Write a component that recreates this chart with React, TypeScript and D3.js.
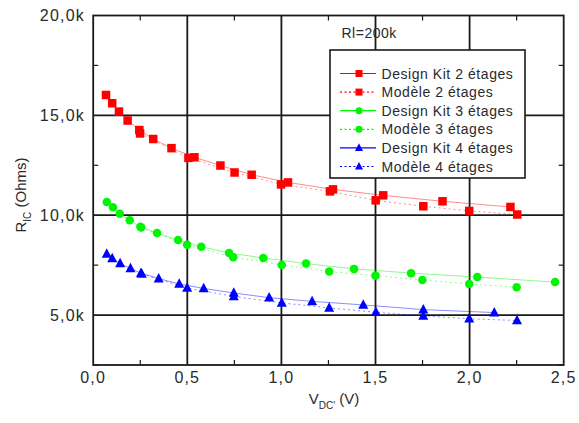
import React from "react";
import * as d3 from "d3";

// ---- Data (V in volts, R in ohms) ----
const dk2V = [0.068, 0.101, 0.137, 0.183, 0.245, 0.319, 0.416, 0.538, 0.676, 0.842, 1.035, 1.274, 1.541, 1.856, 2.217];
const dk2R = [16020, 15607, 15189, 14741, 14264, 13816, 13358, 12900, 12488, 12025, 11642, 11294, 10995, 10697, 10413];
const mo2V = [0.249, 0.506, 0.751, 0.998, 1.258, 1.501, 1.754, 1.998, 2.253];
const mo2R = [14094, 12871, 12139, 11542, 11194, 10746, 10448, 10214, 10035];

const dk3V = [0.072, 0.105, 0.141, 0.194, 0.251, 0.339, 0.451, 0.574, 0.722, 0.904, 1.131, 1.386, 1.689, 2.041, 2.454];
const dk3R = [10662, 10398, 10070, 9751, 9418, 9105, 8756, 8423, 8110, 7861, 7577, 7313, 7100, 6901, 6652];
const mo3V = [0.255, 0.499, 0.744, 1.002, 1.254, 1.5, 1.749, 1.998, 2.25];
const mo3R = [9380, 8522, 7900, 7513, 7179, 6975, 6751, 6557, 6393];

const dk4V = [0.072, 0.101, 0.143, 0.198, 0.254, 0.348, 0.457, 0.587, 0.747, 0.935, 1.163, 1.435, 1.754, 2.131];
const dk4R = [8060, 7831, 7582, 7333, 7100, 6826, 6557, 6333, 6105, 5871, 5687, 5508, 5274, 5125];
const mo4V = [0.258, 0.499, 0.747, 1.002, 1.254, 1.502, 1.754, 1.998, 2.252];
const mo4R = [7060, 6353, 5935, 5607, 5358, 5139, 4960, 4816, 4727];

const xTicks = [0, 0.5, 1, 1.5, 2, 2.5];
const xMinor = [0.25, 0.75, 1.25, 1.75, 2.25];
const yTicks = [5000, 10000, 15000, 20000];
const yMinor = [2500, 7500, 12500, 17500];

const legendLabels = [
  "Design Kit 2 étages",
  "Modèle 2 étages",
  "Design Kit 3 étages",
  "Modèle 3 étages",
  "Design Kit 4 étages",
  "Modèle 4 étages",
];

type Series = { v: number[]; r: number[]; color: string; marker: string; dashed: boolean };
const series: Series[] = [
  { v: dk2V, r: dk2R, color: "#ff0000", marker: "square", dashed: false },
  { v: mo2V, r: mo2R, color: "#ff0000", marker: "square", dashed: true },
  { v: dk3V, r: dk3R, color: "#00f500", marker: "circle", dashed: false },
  { v: mo3V, r: mo3R, color: "#00f500", marker: "circle", dashed: true },
  { v: dk4V, r: dk4R, color: "#0000ff", marker: "triangle", dashed: false },
  { v: mo4V, r: mo4R, color: "#0000ff", marker: "triangle", dashed: true },
];

const FONT = "'Liberation Sans', Arial, sans-serif";

function Marker({ type, x, y, color, s }: { type: string; x: number; y: number; color: string; s: number }) {
  if (type === "square") return <rect x={x - s / 2} y={y - s / 2} width={s} height={s} fill={color} />;
  if (type === "circle") return <circle cx={x} cy={y} r={s / 2} fill={color} />;
  const h = s * 0.95;
  return (
    <path
      d={`M${x},${y - h * 0.6} L${x + s / 2},${y + h * 0.4} L${x - s / 2},${y + h * 0.4} Z`}
      fill={color}
    />
  );
}

export default function App() {
  const W = 579, H = 423;
  const x = d3.scaleLinear().domain([0, 2.5]).range([93.2, 563.7]);
  const y = d3.scaleLinear().domain([2500, 20000]).range([365, 15.5]);
  const [x0, x1] = x.range();
  const [y0, y1] = y.range();

  const fmtX = (v: number) => v.toFixed(1).replace(".", ",");
  const fmtY = (v: number) => (v / 1000).toFixed(1).replace(".", ",") + "k";

  const line = d3
    .line<[number, number]>()
    .x((d) => x(d[0]))
    .y((d) => y(d[1]));

  const lgX = 330, lgY = 50, lgW = 195, lgH = 128, rowH = 18.6;

  return (
    <svg
      width={W}
      height={H}
      style={{ position: "absolute", left: 0, top: 0, background: "#fff" }}
      fontFamily={FONT}
    >
      <rect x={0} y={0} width={W} height={H} fill="#fff" />
      {/* grid */}
      {xTicks.slice(1, -1).map((t) => (
        <line key={"gx" + t} x1={x(t)} x2={x(t)} y1={y0} y2={y1} stroke="#1a1a1a" strokeWidth={1.8} />
      ))}
      {yTicks.slice(0, -1).map((t) => (
        <line key={"gy" + t} x1={x0} x2={x1} y1={y(t)} y2={y(t)} stroke="#1a1a1a" strokeWidth={1.8} />
      ))}
      {/* minor ticks */}
      {xMinor.map((t) => (
        <g key={"mx" + t}>
          <line x1={x(t)} x2={x(t)} y1={y0} y2={y0 - 5} stroke="#1a1a1a" strokeWidth={1.2} />
          <line x1={x(t)} x2={x(t)} y1={y1} y2={y1 + 5} stroke="#1a1a1a" strokeWidth={1.2} />
        </g>
      ))}
      {yMinor.map((t) => (
        <g key={"my" + t}>
          <line x1={x0} x2={x0 + 5} y1={y(t)} y2={y(t)} stroke="#1a1a1a" strokeWidth={1.2} />
          <line x1={x1} x2={x1 - 5} y1={y(t)} y2={y(t)} stroke="#1a1a1a" strokeWidth={1.2} />
        </g>
      ))}
      {/* series lines */}
      {series.map((s, i) => (
        <path
          key={"l" + i}
          d={line(s.v.map((v, j) => [v, s.r[j]] as [number, number])) || ""}
          fill="none"
          stroke={s.color}
          strokeOpacity={0.45}
          strokeWidth={1}
          strokeDasharray={s.dashed ? "2,3" : undefined}
        />
      ))}
      {/* markers */}
      {series.map((s, i) =>
        s.v.map((v, j) => (
          <Marker
            key={"m" + i + "-" + j}
            type={s.marker}
            x={x(v)}
            y={y(s.r[j])}
            color={s.color}
            s={s.marker === "triangle" ? 10 : 8.5}
          />
        ))
      )}
      {/* frame */}
      <rect x={x0} y={y1} width={x1 - x0} height={y0 - y1} fill="none" stroke="#1a1a1a" strokeWidth={1.8} />
      {/* tick labels */}
      {xTicks.map((t) => (
        <text key={"tx" + t} x={x(t)} y={383} textAnchor="middle" fontSize={16} letterSpacing={1.2} fill="#2a2a2a">
          {fmtX(t)}
        </text>
      ))}
      {yTicks.map((t) => (
        <text key={"ty" + t} x={85} y={y(t) + 5.5} textAnchor="end" fontSize={16} letterSpacing={1.2} fill="#2a2a2a">
          {fmtY(t)}
        </text>
      ))}
      {/* axis titles */}
      <text x={334} y={404} textAnchor="middle" fontSize={15} fill="#2a2a2a">
        V<tspan fontSize={10} dy={5}>DC'</tspan>
        <tspan dy={-5}> (V)</tspan>
      </text>
      <text transform="translate(26,195) rotate(-90)" textAnchor="middle" fontSize={15} fill="#2a2a2a">
        R<tspan fontSize={10} dy={5}>IC</tspan>
        <tspan dy={-5}> (Ohms)</tspan>
      </text>
      {/* annotation */}
      <text x={341.5} y={38} fontSize={14} letterSpacing={0.5} fill="#2a2a2a">
        Rl=200k
      </text>
      {/* legend */}
      <rect x={lgX} y={lgY} width={lgW} height={lgH} fill="#fff" stroke="#1a1a1a" strokeWidth={1.6} />
      {series.map((s, i) => {
        const ly = 73.5 + i * rowH;
        return (
          <g key={"lg" + i}>
            <line
              x1={340}
              x2={376}
              y1={ly}
              y2={ly}
              stroke={s.color}
              strokeWidth={1.2}
              strokeDasharray={s.dashed ? "2,2.5" : undefined}
            />
            <Marker type={s.marker} x={359} y={ly} color={s.color} s={s.marker === "triangle" ? 8 : 7} />
            <text x={381.5} y={ly + 5} fontSize={14} letterSpacing={0.55} fill="#2a2a2a">
              {legendLabels[i]}
            </text>
          </g>
        );
      })}
    </svg>
  );
}
